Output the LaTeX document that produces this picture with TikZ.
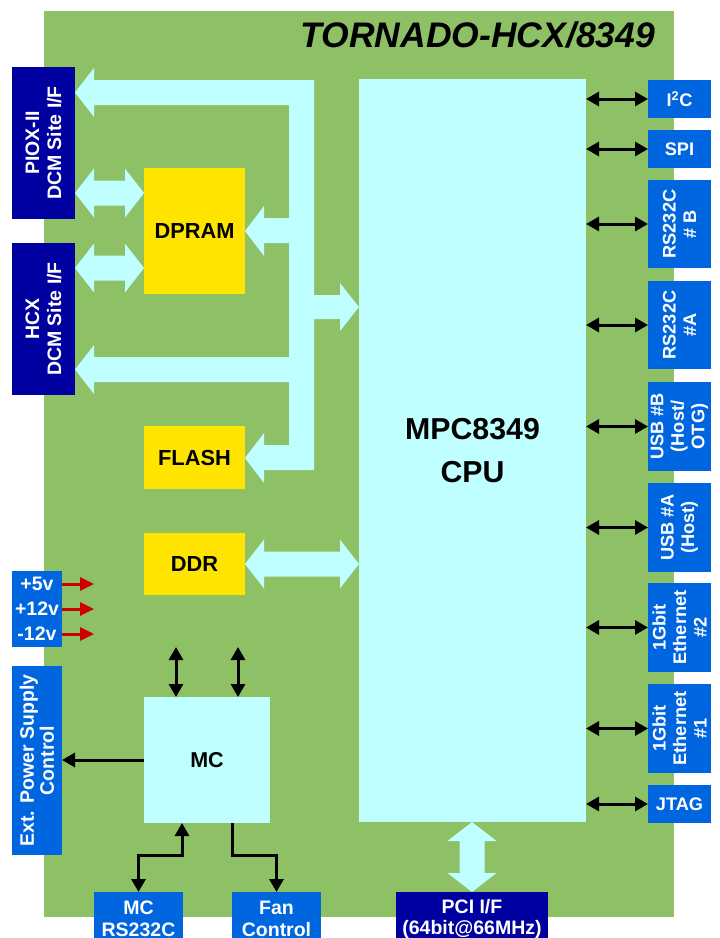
\documentclass[tikz,border=0pt]{standalone}
\usepackage{fontspec}
\setmainfont{Liberation Sans}
\usetikzlibrary{arrows.meta,calc}
\definecolor{board}{HTML}{8EC066}
\definecolor{bus}{HTML}{BFFFFF}
\definecolor{ylw}{HTML}{FFE400}
\definecolor{dkblue}{HTML}{0000A0}
\definecolor{ltblue}{HTML}{0066E0}
\definecolor{pwrred}{HTML}{CC0000}
\newcommand\fatArrowH[2]{\fill[bus] (#1) -- ++(19,-24.5) -- ++(0,12) -- ($(#2)+(-19,-12.5)$) -- ++(0,-12) -- (#2) -- ++(-19,24.5) -- ++(0,-12) -- ($(#1)+(19,12.5)$) -- ++(0,12) -- cycle;}
\newcommand\fatArrowV[2]{\fill[bus] (#1) -- ++(24.5,19) -- ++(-12,0) -- ($(#2)+(12.5,-19)$) -- ++(12,0) -- (#2) -- ++(-24.5,-19) -- ++(12,0) -- ($(#1)+(-12.5,19)$) -- ++(-12,0) -- cycle;}
\begin{document}
\begin{tikzpicture}[x=1pt,y=-1pt,
  lbl/.style={inner sep=0pt,outer sep=0pt,align=center},
  ybox/.style={lbl,fill=ylw,minimum width=101pt,font=\fontsize{21.8}{24}\selectfont\bfseries},
  dbox/.style={lbl,fill=dkblue,text=white},
  bbox/.style={lbl,fill=ltblue,text=white},
  rbox/.style={bbox,minimum width=63pt,font=\fontsize{18.2}{20.5}\selectfont\bfseries},
  rtxt/.style={lbl,rotate=90,text=white,font=\fontsize{18.2}{20.5}\selectfont\bfseries},
  ltxt/.style={lbl,rotate=90,text=white,font=\fontsize{19.5}{22}\selectfont\bfseries},
  btxt/.style={lbl,anchor=north,text=white,font=\fontsize{19.5}{22}\selectfont\bfseries},
  conn/.style={line width=3pt,black,{Triangle[length=13pt,width=14pt]}-{Triangle[length=13pt,width=14pt]}},
  conn1/.style={line width=3pt,black,-{Triangle[length=13pt,width=14pt]}},
  redarr/.style={line width=3pt,pwrred,-{Triangle[length=14pt,width=13pt]}},
]
\useasboundingbox (0,0) rectangle (720,938);
\fill[board] (44,11) rectangle (674,917);
\node[lbl,anchor=base east,font=\fontsize{35.5}{40}\selectfont\bfseries\itshape] (title) at (655,47) {TORNADO-HCX/8349};

% CPU
\node[lbl,fill=bus,minimum width=227pt,minimum height=743pt,font=\fontsize{30.3}{43}\selectfont\bfseries] (cpu) at (472.5,450.5) {MPC8349\\CPU};

% left site boxes
\node[dbox,minimum width=63pt,minimum height=152pt] (piox) at (43.5,143) {};
\node[ltxt] (pioxt) at (piox) {PIOX-II\\DCM Site I/F};
\node[dbox,minimum width=63pt,minimum height=152pt] (hcx) at (43.5,319) {};
\node[ltxt] (hcxt) at (hcx) {HCX\\DCM Site I/F};

% memories
\node[ybox,minimum height=126pt] (dpram) at (194.5,231) {DPRAM};
\node[ybox,minimum height=63pt] (flash) at (194.5,457.5) {FLASH};
\node[ybox,minimum height=62pt] (ddr) at (194.5,564) {DDR};

% power
\node[bbox,minimum width=50pt,minimum height=76pt,font=\fontsize{19.5}{25}\selectfont\bfseries] (pwr) at (37,609) {+5v\\+12v\\-12v};
\node[bbox,minimum width=50pt,minimum height=189pt] (ext) at (37,760.5) {};
\node[ltxt,font=\fontsize{19.5}{20}\selectfont\bfseries] (extt) at (ext) {Ext. Power Supply\\Control};

% MC
\node[lbl,fill=bus,minimum width=126pt,minimum height=126pt,font=\fontsize{21.5}{24}\selectfont\bfseries] (mc) at (207,760) {MC};

% bottom boxes
\node[bbox,minimum width=89pt,minimum height=46pt] (mcrs) at (138.5,915) {};
\node[btxt] (mcrst) at (138.5,901) {MC\\RS232C};
\node[bbox,minimum width=89pt,minimum height=46pt] (fan) at (276.5,915) {};
\node[btxt] (fant) at (276.5,901) {Fan\\Control};
\node[dbox,minimum width=152pt,minimum height=46pt] (pci) at (472,915) {};
\node[btxt,font=\fontsize{19.5}{21.5}\selectfont\bfseries] (pcit) at (472,899) {PCI I/F\\(64bit@66MHz)};

% right boxes
\node[rbox,minimum height=38pt] (i2c) at (679.5,99) {I\textsuperscript{2}C};
\node[rbox,minimum height=38pt] (spi) at (679.5,149) {SPI};
\node[rbox,minimum height=88pt] (rsb) at (679.5,224) {};
\node[rtxt] (rsbt) at (rsb) {RS232C\\\# B};
\node[rbox,minimum height=88pt] (rsa) at (679.5,325) {};
\node[rtxt] (rsat) at (rsa) {RS232C\\\#A};
\node[rbox,minimum height=89pt] (usbb) at (679.5,426.5) {};
\node[rtxt] (usbbt) at (usbb) {USB \#B\\(Host/\\OTG)};
\node[rbox,minimum height=89pt] (usba) at (679.5,527.5) {};
\node[rtxt] (usbat) at (usba) {USB \#A\\(Host)};
\node[rbox,minimum height=89pt] (eth2) at (679.5,627.5) {};
\node[rtxt] (eth2t) at (eth2) {1Gbit\\Ethernet\\\#2};
\node[rbox,minimum height=89pt] (eth1) at (679.5,728.5) {};
\node[rtxt] (eth1t) at (eth1) {1Gbit\\Ethernet\\\#1};
\node[rbox,minimum height=38pt] (jtag) at (679.5,804) {JTAG};

% CPU to right interfaces
\foreach \b in {i2c,spi,rsb,rsa,usbb,usba,eth2,eth1,jtag}
  \draw[conn] (cpu.east |- \b.west) -- (\b.west);

% main local bus
\fill[bus] (75,92.5) -- (94,68) -- (94,80) -- (314,80) -- (314,295) -- (340,295) -- (340,283) -- (359,307) -- (340,331) -- (340,319) -- (314,319) -- (314,470) -- (264,470) -- (264,483) -- (245,458) -- (264,433) -- (264,445) -- (289,445) -- (289,382) -- (94,382) -- (94,394) -- (75,369.5) -- (94,345) -- (94,357) -- (289,357) -- (289,243) -- (264,243) -- (264,256) -- (245,231) -- (264,206) -- (264,218) -- (289,218) -- (289,105) -- (94,105) -- (94,117) -- cycle;

% site to DPRAM
\coordinate (d1b) at ([yshift=38pt]dpram.west);
\coordinate (d1a) at (d1b -| piox.east);
\fatArrowH{d1a}{d1b}
\coordinate (d2b) at ([yshift=-37pt]dpram.west);
\coordinate (d2a) at (d2b -| hcx.east);
\fatArrowH{d2a}{d2b}

% DDR
\coordinate (ddc) at (cpu.west |- ddr.east);
\fatArrowH{ddr.east}{ddc}

% PCI
\coordinate (pc1) at (cpu.south -| pci.north);
\fatArrowV{pc1}{pci.north}

% power arrows
\coordinate (r1e) at ([xshift=32pt,yshift=25pt]pwr.east);
\coordinate (r2e) at ([xshift=32pt]pwr.east);
\coordinate (r3e) at ([xshift=32pt,yshift=-25pt]pwr.east);
\draw[redarr] (r1e -| pwr.east) -- (r1e);
\draw[redarr] (r2e -| pwr.east) -- (r2e);
\draw[redarr] (r3e -| pwr.east) -- (r3e);

% MC connections
\coordinate (mt1) at ([xshift=-31pt,yshift=50pt]mc.north);
\coordinate (mt2) at ([xshift=31pt,yshift=50pt]mc.north);
\draw[conn] (mt1) -- (mt1 |- mc.north);
\draw[conn] (mt2) -- (mt2 |- mc.north);
\draw[conn1] (mc.west) -- (mc.west -| ext.east);
\draw[conn] (mcrs.north) -- ++(0,-37) -| ([xshift=-25pt]mc.south);
\draw[conn1] ([xshift=25pt]mc.south) -- ++(0,32) -| (fan.north);
\end{tikzpicture}
\end{document}
